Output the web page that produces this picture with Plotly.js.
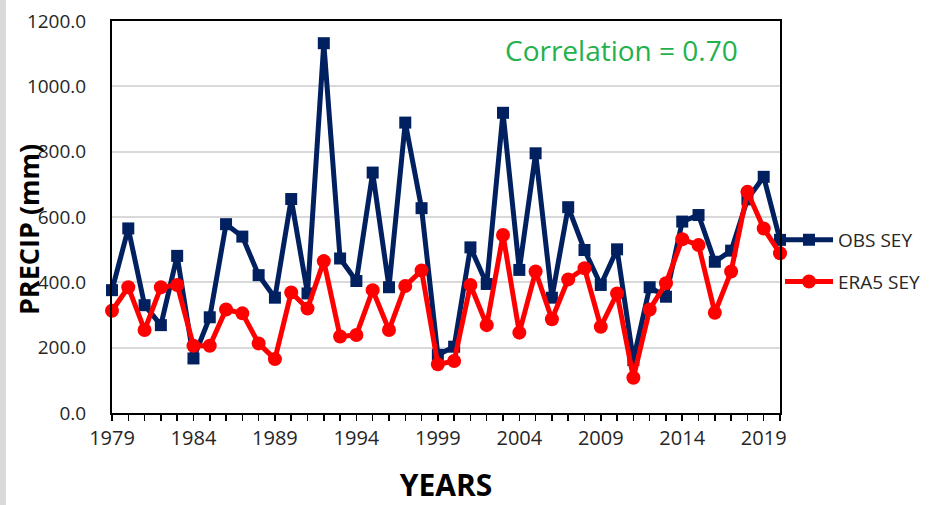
<!DOCTYPE html>
<html>
<head>
<meta charset="utf-8">
<script src="https://cdn.plot.ly/plotly-3.0.1.min.js"></script>
<style>html,body{margin:0;padding:0;background:#fff;}#chart{width:931px;height:505px;}</style>
</head>
<body>
<div id="chart"></div>
<script>
const years = [1979,1980,1981,1982,1983,1984,1985,1986,1987,1988,1989,1990,1991,1992,1993,1994,1995,1996,1997,1998,1999,2000,2001,2002,2003,2004,2005,2006,2007,2008,2009,2010,2011,2012,2013,2014,2015,2016,2017,2018,2019,2020];
const obsSey = [376,565,330,269,481,167,293,578,540,422,353,655,366,1132,473,404,736,385,889,627,178,203,507,395,919,438,795,353,630,499,392,501,162,385,356,586,606,463,497,654,723,530];
const era5Sey = [313,385,254,385,392,206,206,317,305,213,165,369,320,465,234,239,376,254,389,436,149,159,392,269,545,246,433,287,409,443,264,366,108,317,397,532,514,307,433,677,565,489];
const tickLabelYears = [1979,1984,1989,1994,1999,2004,2009,2014,2019];
const yTicks = [0,200,400,600,800,1000,1200];
const correlationText = "Correlation = 0.70";
const yTitle = "PRECIP (mm)";
const xTitle = "YEARS";

const tickText = years.map(y => tickLabelYears.includes(y) ? String(y) : "");
const FONT = "Open Sans, Liberation Sans, sans-serif";

const traces = [
  {x: years, y: obsSey, name: "OBS SEY", type: "scatter", mode: "lines+markers", legendgroup: "a",
   line: {color: "#002060", width: 5}, marker: {symbol: "square", size: 12, color: "#002060"}, cliponaxis: false},
  {x: years, y: era5Sey, name: "ERA5 SEY", type: "scatter", mode: "lines+markers", legendgroup: "b",
   line: {color: "#FF0000", width: 5}, marker: {symbol: "circle", size: 14, color: "#FF0000"}, cliponaxis: false}
];

const layout = {
  width: 931, height: 505,
  margin: {l: 112, r: 151, t: 21, b: 92, autoexpand: false},
  paper_bgcolor: "#fff", plot_bgcolor: "#fff",
  showlegend: true,
  legend: {x: 1.0, xanchor: "left", y: 0.388, yanchor: "middle", traceorder: "grouped", tracegroupgap: 14,
           itemwidth: 48, borderwidth: 0,
           font: {family: FONT, size: 19, color: "#262626"}, bgcolor: "rgba(0,0,0,0)"},
  xaxis: {
    range: [1979, 2020], tickvals: years, ticktext: tickText,
    ticks: "outside", ticklen: 6, tickwidth: 1.5, tickcolor: "#000",
    showline: true, linecolor: "#000", linewidth: 2, mirror: true,
    showgrid: false, zeroline: false,
    tickfont: {family: FONT, size: 20, color: "#262626"},
    title: {text: "<b>" + xTitle + "</b>", font: {family: FONT, size: 30, color: "#000"}, standoff: 26}
  },
  yaxis: {
    range: [0, 1200], tickvals: yTicks, tickformat: ".1f",
    ticks: "outside", ticklen: 20, tickcolor: "rgba(0,0,0,0)",
    showline: true, linecolor: "#000", linewidth: 2, mirror: true,
    showgrid: true, gridcolor: "#d9d9d9", gridwidth: 2, zeroline: false,
    tickfont: {family: FONT, size: 19, color: "#262626"}
  },
  annotations: [{
    text: correlationText, xref: "paper", yref: "paper", x: 0.940, y: 0.926, xanchor: "right", yanchor: "middle",
    showarrow: false, font: {family: FONT, size: 28, color: "#22B14C"}
  }, {
    text: "<b>" + yTitle + "</b>", xref: "paper", yref: "paper", x: -0.124, y: 0.467, xanchor: "center", yanchor: "middle",
    textangle: -90, showarrow: false, font: {family: FONT, size: 27, color: "#000"}
  }],
  shapes: [{
    type: "rect", xref: "paper", yref: "paper", x0: -112/668, x1: -106/668, y0: -1, y1: 2,
    fillcolor: "#d9d9d9", line: {width: 0}, layer: "below"
  }]
};

Plotly.newPlot("chart", traces, layout, {displayModeBar: false, staticPlot: true});
</script>
</body>
</html>
